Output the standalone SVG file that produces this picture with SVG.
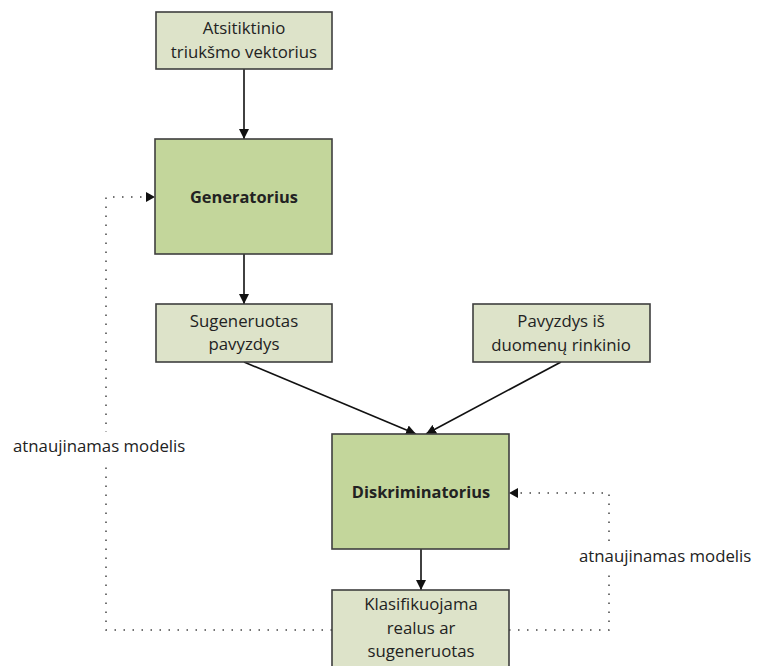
<svg xmlns="http://www.w3.org/2000/svg" width="758" height="666" viewBox="0 0 758 666">
<style>
.box{stroke:#3f3f3f;stroke-width:1.6}
.light{fill:#dde3c9}
.green{fill:#c3d69b}
text{font-family:"Open Sans","Noto Sans",sans-serif;font-size:16.8px;fill:#222;text-anchor:middle}
.b{font-weight:bold;font-size:16.4px}
.lbl{text-anchor:start}
.solid{stroke:#111;stroke-width:1.6;fill:none}
.dot{stroke:#444;stroke-width:1.5;fill:none;stroke-dasharray:1.5 7.5}
</style>
<defs>
<marker id="ah" viewBox="0 0 10 10" refX="10" refY="5" markerWidth="10" markerHeight="10" markerUnits="userSpaceOnUse" orient="auto">
<path d="M0,0 L10,5 L0,10 z" fill="#111"/>
</marker>
</defs>
<rect width="758" height="666" fill="#fff"/>
<g id="connectors">
<line class="solid" x1="244" y1="69" x2="244" y2="139" marker-end="url(#ah)"/>
<line class="solid" x1="244" y1="254" x2="244" y2="304" marker-end="url(#ah)"/>
<line class="solid" x1="244" y1="362" x2="416" y2="434" marker-end="url(#ah)"/>
<line class="solid" x1="561" y1="362" x2="426" y2="434" marker-end="url(#ah)"/>
<line class="solid" x1="421" y1="549" x2="421" y2="590" marker-end="url(#ah)"/>
<polyline class="dot" points="332,630 106,630 106,197 146,197"/>
<path d="M146,192 L155,197 L146,202 z" fill="#111"/>
<polyline class="dot" points="509,630 609,630 609,493 518,493"/>
<path d="M518,488 L509,493 L518,498 z" fill="#111"/>
</g>
<g id="label-left">
<rect x="10" y="432" width="186" height="28" fill="#fff"/>
<text class="lbl" x="13" y="452">atnaujinamas modelis</text>
</g>
<g id="label-right">
<rect x="576" y="542" width="182" height="28" fill="#fff"/>
<text class="lbl" x="579" y="562">atnaujinamas modelis</text>
</g>
<g id="node-noise">
<rect class="box light" x="156" y="12" width="176" height="57"/>
<text x="244" y="34">Atsitiktinio</text>
<text x="244" y="58">triukšmo vektorius</text>
</g>
<g id="node-generator">
<rect class="box green" x="155" y="139" width="177" height="115"/>
<text class="b" x="244" y="203">Generatorius</text>
</g>
<g id="node-generated">
<rect class="box light" x="156" y="304" width="176" height="58"/>
<text x="244" y="327">Sugeneruotas</text>
<text x="244" y="350">pavyzdys</text>
</g>
<g id="node-dataset">
<rect class="box light" x="473" y="304" width="177" height="58"/>
<text x="561" y="327">Pavyzdys iš</text>
<text x="561" y="351">duomenų rinkinio</text>
</g>
<g id="node-discriminator">
<rect class="box green" x="332" y="434" width="177" height="115"/>
<text class="b" x="421" y="498">Diskriminatorius</text>
</g>
<g id="node-classify">
<rect class="box light" x="332" y="590" width="177" height="90"/>
<text x="421" y="610">Klasifikuojama</text>
<text x="421" y="634">realus ar</text>
<text x="421" y="657">sugeneruotas</text>
</g>
</svg>
